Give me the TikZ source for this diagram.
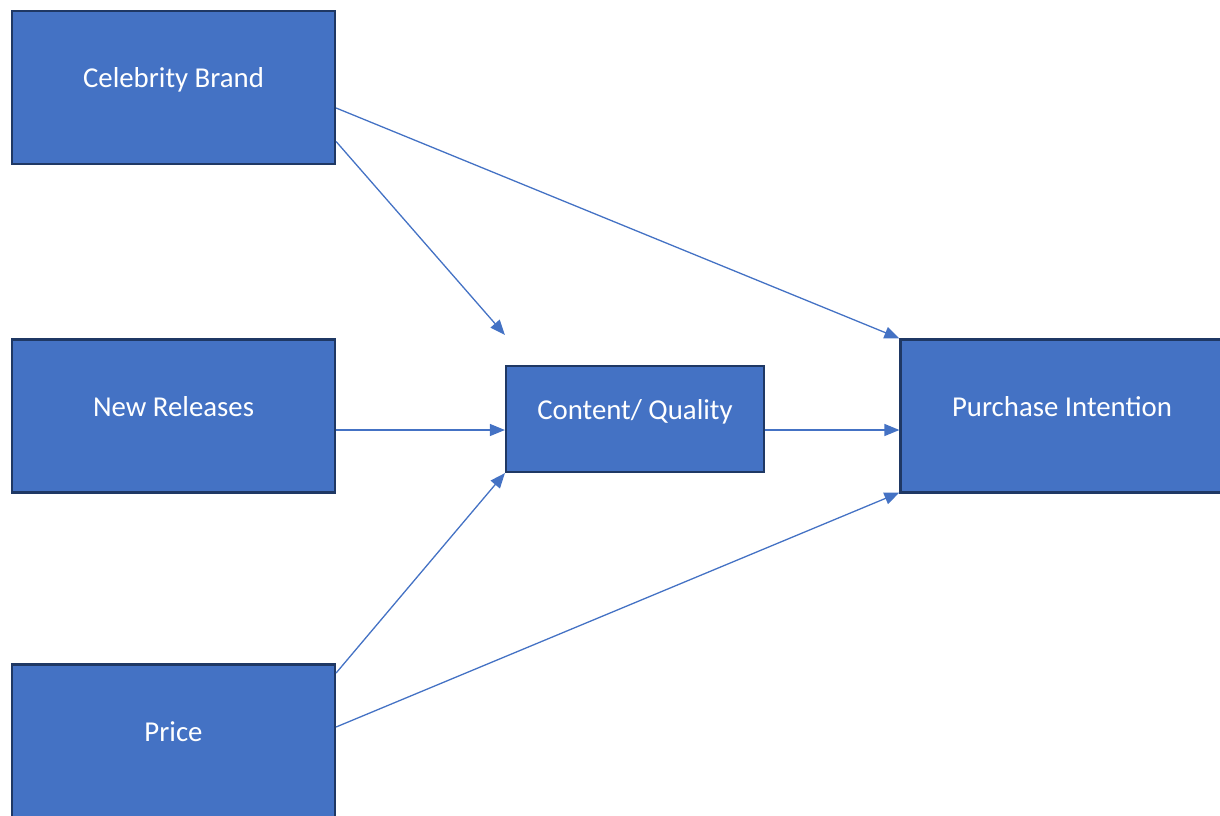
\documentclass[tikz,border=0pt]{standalone}
\usepackage{fontspec}
\setmainfont{Carlito}
\usetikzlibrary{arrows.meta,calc}
\definecolor{boxfill}{HTML}{4472C4}
\definecolor{boxline}{HTML}{1F3864}
\definecolor{linkcol}{HTML}{4472C4}
\tikzset{
  factor/.style={rectangle, fill=boxfill, draw=boxline, line width=2.2pt,
    minimum width=323pt, minimum height=153pt, inner sep=0pt},
  midbox/.style={factor, minimum width=258pt, minimum height=106pt},
  lbl/.style={anchor=base, text=white, inner sep=0pt,
    font=\fontsize{28.8}{34}\selectfont},
  link/.style={draw=linkcol, line width=1.3pt,
    -{Triangle[length=15pt,width=12pt]}}
}
\begin{document}
\begin{tikzpicture}[x=1pt,y=-1pt]
  \useasboundingbox (0,0) rectangle (1220,816);
  \clip (0,0) rectangle (1220,816);

  % factor boxes
  \node[factor] (cb) at (173.5,87.5) {};
  \node[factor] (nr) at (173.5,416) {};
  \node[factor] (pr) at (173.5,741) {};
  \node[midbox] (cq) at (635,419) {};
  \node[factor] (pi) at (1062,416) {};

  % box captions, baseline on the box centre
  \node[lbl] (cbt) at (cb.center) {Celebrity Brand};
  \node[lbl] (nrt) at (nr.center) {New Releases};
  \node[lbl] (prt) at (pr.center) {Price};
  \node[lbl] (cqt) at (cq.center) {Content/ Quality};
  \node[lbl] (pit) at (pi.center) {Purchase Intention};

  % end point of the free arrow above the mediator
  \coordinate (cqtop) at ([yshift=30pt]cq.north west);

  % relations
  \draw[link] ([yshift=-20.5pt]cb.east) -- (pi.north west);
  \draw[link] ([yshift=-54pt]cb.east) -- (cqtop);
  \draw[link] ([yshift=-14pt]nr.east) -- ([yshift=-11pt]cq.west);
  \draw[link] ([yshift=68pt]pr.east) -- (cq.south west);
  \draw[link] ([yshift=14pt]pr.east) -- ([yshift=1pt]pi.south west);
  \draw[link] ([yshift=-11pt]cq.east) -- ([yshift=-14pt]pi.west);
\end{tikzpicture}
\end{document}
